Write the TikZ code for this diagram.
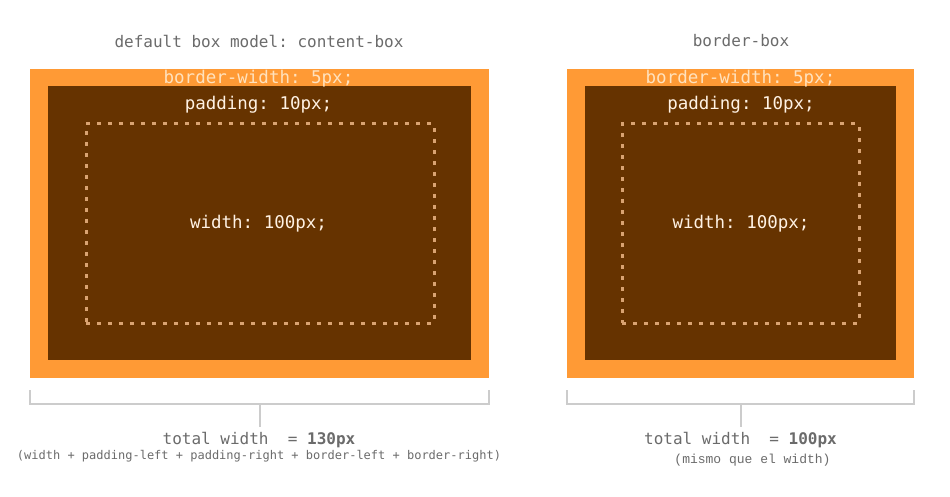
\documentclass[tikz,border=0pt]{standalone}
\usepackage{fontspec}
\setmonofont{DejaVu Sans Mono}
\newfontfamily\couriermono{Liberation Mono}
\definecolor{borderorange}{HTML}{FF9A35}
\definecolor{darkbrown}{HTML}{663300}
\definecolor{lightlabel}{HTML}{FFE2BE}
\definecolor{whitelabel}{HTML}{FFF2E4}
\definecolor{dotcol}{HTML}{D9A372}
\definecolor{graytext}{HTML}{6B6B6B}
\definecolor{bracketgray}{HTML}{CCCCCC}
\tikzset{
  outerbox/.style={rectangle, fill=borderorange, draw=none, inner sep=0pt},
  innerbox/.style={rectangle, fill=darkbrown, draw=none, inner sep=0pt},
  contentbox/.style={rectangle, draw=dotcol, line width=3pt, dash pattern=on 4pt off 7pt, inner sep=0pt},
  headtxt/.style={font=\ttfamily\fontsize{16}{19}\selectfont, text=graytext, inner sep=0pt},
  bwtxt/.style={font=\ttfamily\fontsize{17.5}{20}\selectfont, text=lightlabel, inner sep=0pt},
  padtxt/.style={font=\ttfamily\fontsize{17.5}{20}\selectfont, text=whitelabel, inner sep=0pt},
  totaltxt/.style={font=\ttfamily\fontsize{16}{19}\selectfont, text=graytext, inner sep=0pt},
  smalltxt/.style={font=\ttfamily\fontsize{12}{14}\selectfont, text=graytext, inner sep=0pt},
  mismotxt/.style={font=\couriermono\fontsize{13}{15}\selectfont, text=graytext, inner sep=0pt},
  bracket/.style={draw=bracketgray, line width=2pt}
}
\begin{document}
\begin{tikzpicture}[x=1pt, y=-1pt]
\useasboundingbox[fill=white] (0,0) rectangle (950,497);

% ---------- left: content-box ----------
\node[headtxt] (lhead) at (259,41) {default box model: content-box};
\node[outerbox, minimum width=459pt, minimum height=309pt] (lborder) at (259.5,223.5) {};
\node[innerbox, minimum width=423pt, minimum height=274pt] (lpad) at (259.5,223) {};
\node[contentbox, minimum width=348pt, minimum height=199pt] (lcontent) at (260,223.5) {};
\node[bwtxt] (lbw) at (258.5,78.5) {border-width: 5px;};
\node[padtxt] (lpadtxt) at (258.5,105) {padding: 10px;};
\node[padtxt] (lwidth) at (258.5,223.5) {width: 100px;};

\coordinate (lb1) at (30,390);
\coordinate (lb2) at (489,390);
\coordinate (lbm) at (259.5,404);
\coordinate (lstem) at (259.5,427);
\draw[bracket] (lb1) |- (lbm) -| (lb2);
\draw[bracket] (lbm) -- (lstem);
\node[totaltxt] (ltotal) at (259,440.5) {total width\ \ = \textbf{130px}};
\node[smalltxt] (lsmall) at (259,456) {(width + padding-left + padding-right + border-left + border-right)};

% ---------- right: border-box ----------
\node[headtxt] (rhead) at (741,41) {border-box};
\node[outerbox, minimum width=347pt, minimum height=309pt] (rborder) at (740.5,223.5) {};
\node[innerbox, minimum width=311pt, minimum height=274pt] (rpad) at (740.5,223) {};
\node[contentbox, minimum width=237pt, minimum height=199pt] (rcontent) at (740.5,223.5) {};
\node[bwtxt] (rbw) at (740.5,78.5) {border-width: 5px;};
\node[padtxt] (rpadtxt) at (741,105) {padding: 10px;};
\node[padtxt] (rwidth) at (741,223.5) {width: 100px;};

\coordinate (rb1) at (567,390);
\coordinate (rb2) at (914,390);
\coordinate (rbm) at (740.5,404);
\coordinate (rstem) at (740.5,427);
\draw[bracket] (rb1) |- (rbm) -| (rb2);
\draw[bracket] (rbm) -- (rstem);
\node[totaltxt] (rtotal) at (740.5,440.5) {total width\ \ = \textbf{100px}};
\node[mismotxt] (rsmall) at (752.5,460) {(mismo que el width)};
\end{tikzpicture}
\end{document}
